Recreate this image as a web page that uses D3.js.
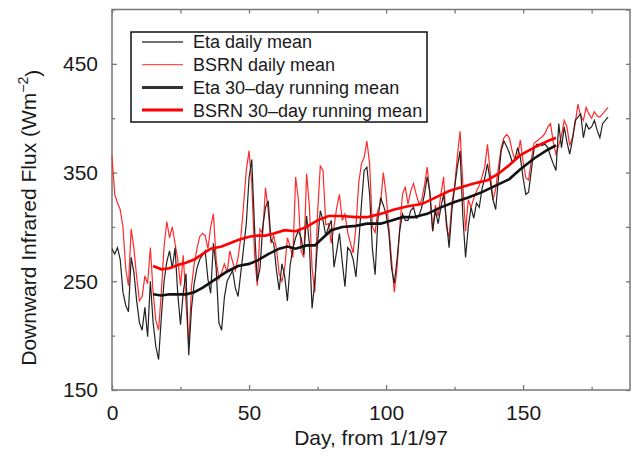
<!DOCTYPE html>
<html>
<head>
<meta charset="utf-8">
<script src="https://cdn.jsdelivr.net/npm/d3@7"></script>
<style>
  html, body { margin: 0; padding: 0; background: #fff; }
  svg { display: block; font-family: "Liberation Sans", Arial, sans-serif; }
</style>
</head>
<body>
<svg id="chart" width="633" height="458"></svg>
<script>
// daily means, index = day from 1/1/97
const etaDaily = [
  280, 275, 281, 270, 240, 228, 222, 272, 258, 232, 212, 205, 226, 199, 250, 212, 190, 178, 217, 250,
  268, 278, 262, 281, 238, 210, 240, 257, 182, 225, 248, 262, 270, 274, 278, 252, 239, 285, 262, 212,
  205, 235, 250, 255, 260, 244, 236, 258, 280, 303, 345, 362, 300, 250, 262, 300, 318, 324, 288, 285,
  260, 242, 266, 255, 232, 265, 280, 290, 297, 290, 275, 310, 285, 225, 250, 285, 315, 306, 292, 300,
  306, 263, 278, 294, 268, 245, 281, 278, 270, 254, 285, 320, 352, 355, 330, 280, 256, 306, 327, 320,
  312, 295, 262, 248, 270, 297, 312, 306, 306, 315, 318, 308, 310, 318, 330, 346, 332, 296, 315, 303,
  318, 330, 306, 281, 315, 336, 355, 370, 310, 272, 300, 318, 308, 322, 318, 335, 345, 358, 342, 325,
  316, 345, 370, 379, 374, 368, 360, 362, 373, 364, 345, 330, 332, 352, 372, 376, 376, 375, 376, 373,
  365, 358, 352, 395, 373, 392, 378, 367, 380, 398, 401, 404, 382, 395, 390, 392, 398, 389, 382, 395,
  398, 401
];
const bsrnDaily = [
  365, 330, 322, 316, 300, 262, 246, 298, 280, 254, 232, 236, 255, 248, 281, 240, 214, 205, 240, 282,
  305, 290, 300, 285, 270, 246, 274, 230, 190, 245, 266, 280, 291, 294, 292, 280, 300, 312, 270, 252,
  258, 266, 258, 278, 268, 260, 272, 290, 320, 352, 370, 340, 275, 246, 298, 294, 336, 315, 285, 292,
  280, 257, 250, 262, 290, 282, 272, 346, 325, 278, 272, 349, 320, 262, 240, 312, 356, 352, 302, 303,
  285, 300, 318, 330, 306, 312, 295, 285, 276, 300, 340, 358, 364, 379, 358, 300, 295, 315, 322, 350,
  330, 300, 270, 240, 262, 300, 330, 337, 321, 333, 340, 330, 321, 325, 338, 355, 330, 296, 320, 310,
  330, 346, 300, 290, 322, 337, 365, 388, 340, 296, 325, 318, 326, 333, 338, 346, 355, 376, 350, 325,
  335, 355, 373, 382, 385, 382, 370, 362, 365, 380, 360, 345, 343, 362, 377, 379, 381, 383, 386, 392,
  395, 378, 367, 375, 384, 398, 392, 375, 382, 395, 413, 402, 398, 410, 404, 400, 406, 402, 401, 404,
  407, 410
];

// 30-day running means, read at the days listed
const etaMeanDays = [15, 18, 21, 24, 27, 30, 33, 36, 39, 42, 46, 50, 53, 57, 61, 64, 67, 71, 74, 77,
  80, 84, 89, 93, 98, 102, 106, 110, 115, 120, 125, 130, 135, 140, 145, 149, 154, 159, 162];
const etaMean = [238, 237, 238, 238, 238, 240, 244, 249, 254, 259, 264, 266, 269, 275, 280, 282, 280, 283, 283, 290,
  297, 300, 301, 303, 303, 306, 309, 309, 312, 318, 323, 327, 332, 338, 344, 353, 363, 371, 375];
const bsrnMeanDays = [15, 18, 21, 24, 27, 30, 33, 36, 40, 43, 46, 50, 53, 56, 59, 63, 67, 71, 75, 79,
  84, 89, 93, 98, 103, 108, 113, 118, 123, 128, 132, 137, 141, 145, 149, 154, 159, 162];
const bsrnMean = [264, 261, 262, 265, 267, 270, 275, 280, 282, 285, 288, 291, 292, 292, 294, 297, 296, 300, 306, 310,
  310, 309, 309, 312, 316, 319, 321, 327, 333, 337, 340, 343, 349, 357, 366, 373, 379, 382];

const xMajor = [0, 50, 100, 150];
const xMinor = [25, 75, 125, 175];
const yMajor = [150, 250, 350, 450];
const yMinor = [200, 300, 400, 500];

const legendItems = [
  {label: "Eta daily mean", color: "#444", width: 1.3},
  {label: "BSRN daily mean", color: "#ff5050", width: 1.3},
  {label: "Eta 30\u2013day running mean", color: "#333", width: 3},
  {label: "BSRN 30\u2013day running mean", color: "#ff0000", width: 3}
];

const plot = {left: 112, right: 630, top: 9.5, bottom: 390};
const x = d3.scaleLinear().domain([0, 189]).range([plot.left, plot.right]);
const y = d3.scaleLinear().domain([150, 500]).range([plot.bottom, plot.top]);

const svg = d3.select("#chart");
const axisColor = "#777";
const textColor = "#1a1a1a";

// axes, ticks pointing inward on all sides
function styleAxis(g) {
  g.select(".domain").remove();
  g.selectAll(".tick line").attr("stroke", axisColor).attr("stroke-width", 1.3);
  g.selectAll("text").attr("fill", textColor).attr("font-size", "21px");
}
svg.append("g").attr("transform", `translate(0,${plot.bottom})`)
  .call(d3.axisBottom(x).tickValues(xMajor).tickFormat(d3.format("d")).tickSizeInner(-5).tickSizeOuter(0).tickPadding(15))
  .call(styleAxis);
svg.append("g").attr("transform", `translate(0,${plot.bottom})`)
  .call(d3.axisBottom(x).tickValues(xMinor).tickFormat("").tickSizeInner(-3).tickSizeOuter(0))
  .call(styleAxis);
svg.append("g").attr("transform", `translate(0,${plot.top})`)
  .call(d3.axisTop(x).tickValues(xMajor.concat(xMinor)).tickFormat("").tickSizeInner(-4).tickSizeOuter(0))
  .call(styleAxis);
svg.append("g").attr("transform", `translate(${plot.left},0)`)
  .call(d3.axisLeft(y).tickValues(yMajor).tickFormat(d3.format("d")).tickSizeInner(-5).tickSizeOuter(0).tickPadding(14))
  .call(styleAxis);
svg.append("g").attr("transform", `translate(${plot.left},0)`)
  .call(d3.axisLeft(y).tickValues(yMinor).tickFormat("").tickSizeInner(-3).tickSizeOuter(0))
  .call(styleAxis);
svg.append("g").attr("transform", `translate(${plot.right},0)`)
  .call(d3.axisRight(y).tickValues(yMajor.concat(yMinor)).tickFormat("").tickSizeInner(-4).tickSizeOuter(0))
  .call(styleAxis);

svg.append("rect")
  .attr("x", plot.left).attr("y", plot.top)
  .attr("width", plot.right - plot.left).attr("height", plot.bottom - plot.top)
  .attr("fill", "none").attr("stroke", axisColor).attr("stroke-width", 1.5);

// lines
const dailyLine = d3.line().x((d, i) => x(i)).y(d => y(d));
const meanLine = days => d3.line().x((d, i) => x(days[i])).y(d => y(d));

svg.append("path").attr("d", dailyLine(bsrnDaily))
  .attr("fill", "none").attr("stroke", "#ff2a2a").attr("stroke-width", 1.2);
svg.append("path").attr("d", dailyLine(etaDaily))
  .attr("fill", "none").attr("stroke", "#222").attr("stroke-width", 1.2);
svg.append("path").attr("d", meanLine(bsrnMeanDays)(bsrnMean))
  .attr("fill", "none").attr("stroke", "#ff0000").attr("stroke-width", 2.6);
svg.append("path").attr("d", meanLine(etaMeanDays)(etaMean))
  .attr("fill", "none").attr("stroke", "#111").attr("stroke-width", 2.6);

// legend
const legend = svg.append("g");
legend.append("rect")
  .attr("x", 131).attr("y", 32).attr("width", 296).attr("height", 90)
  .attr("fill", "#fff").attr("stroke", "#111").attr("stroke-width", 1.5);
legendItems.forEach((item, i) => {
  const cy = 42 + i * 22.7;
  legend.append("line")
    .attr("x1", 142).attr("x2", 183).attr("y1", cy).attr("y2", cy)
    .attr("stroke", item.color).attr("stroke-width", item.width);
  legend.append("text")
    .attr("x", 193).attr("y", cy).attr("dy", "0.36em")
    .attr("font-size", "18px").attr("fill", textColor)
    .text(item.label);
});

// axis titles
svg.append("text")
  .attr("x", (plot.left + plot.right) / 2).attr("y", 445)
  .attr("text-anchor", "middle").attr("font-size", "21px").attr("fill", textColor)
  .text("Day, from 1/1/97");

const yTitle = svg.append("text")
  .attr("transform", `translate(36,${(plot.top + plot.bottom) / 2 + 18}) rotate(-90)`)
  .attr("text-anchor", "middle").attr("font-size", "21px").attr("fill", textColor);
yTitle.append("tspan").text("Downward Infrared Flux (Wm");
yTitle.append("tspan").attr("dy", "-0.55em").attr("font-size", "14px").text("\u22122");
yTitle.append("tspan").attr("dy", "0.55em").text(")");
</script>
</body>
</html>
